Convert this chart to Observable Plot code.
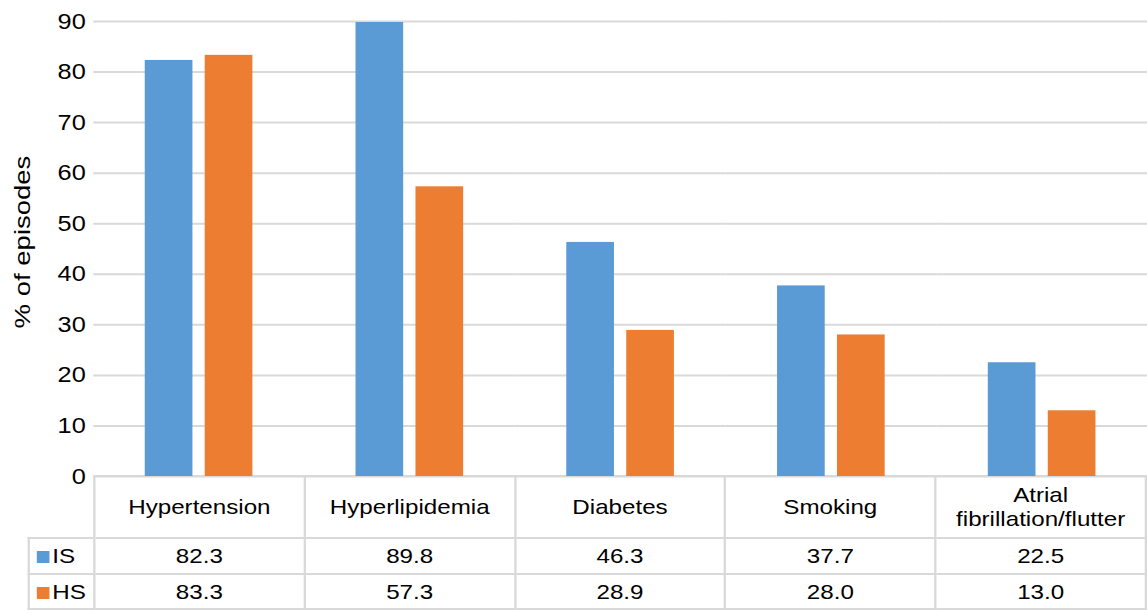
<!DOCTYPE html>
<html>
<head>
<meta charset="utf-8">
<script src="https://cdn.jsdelivr.net/npm/d3@7"></script>
<script src="https://cdn.jsdelivr.net/npm/@observablehq/plot@0.6"></script>
<style>
  html, body { margin: 0; padding: 0; background: #fff; }
  #outer { position: relative; width: 1147px; height: 610px; overflow: hidden; font-family: "Liberation Sans", Arial, sans-serif; color: #000; }
  /* the source picture is horizontally stretched: draw at 997px and stretch to 1147px */
  #wrap { position: absolute; left: 0; top: 0; width: 997px; height: 610px; transform-origin: 0 0; }
  #chart { position: absolute; left: 0; top: 0; z-index: 2; }
  #tbl { position: absolute; left: 23.5px; top: 475px; z-index: 1; border-collapse: collapse; table-layout: fixed; width: 973.5px; font-size: 21px; }
  #tbl td { border: 2px solid #d9d9d9; text-align: center; padding: 0; }
  #tbl tr.head td { height: 60px; line-height: 24px; }
  #tbl tr.head td.blank { border: none; border-right: 2px solid #d9d9d9; }
  #tbl tr.r0 td { height: 34px; }
  #tbl tr.r1 td { height: 33px; }
  #tbl td.leg { text-align: left; padding-left: 6px; }
  .sw { display: inline-block; width: 11px; height: 12px; margin-right: 3px; vertical-align: 0px; }
  #ylabel { position: absolute; left: 22.5px; top: 242px; font-size: 27.5px; white-space: nowrap; transform: translate(-50%, -50%) rotate(-90deg) scaleY(0.8); z-index: 3; }
</style>
</head>
<body>
<div id="outer">
  <div id="wrap">
    <div id="chart"></div>
    <table id="tbl"></table>
  </div>
  <div id="ylabel"></div>
</div>
<script>
const categories = ["Hypertension", "Hyperlipidemia", "Diabetes", "Smoking", "Atrial fibrillation/flutter"];
const series = ["IS", "HS"];
const isValues = [82.3, 89.8, 46.3, 37.7, 22.5];
const hsValues = [83.3, 57.3, 28.9, 28.0, 13.0];
const colors = ["#5b9bd5", "#ed7d31"];
const yTicks = [0, 10, 20, 30, 40, 50, 60, 70, 80, 90];
const yLabel = "% of episodes";

const SX = 1147 / 997;
document.getElementById("wrap").style.transform = `scaleX(${SX})`;

const valuesBySeries = {IS: isValues, HS: hsValues};
const data = [];
series.forEach(s => categories.forEach((c, i) => data.push({category: c, series: s, value: valuesBySeries[s][i]})));

const plot = Plot.plot({
  width: 997,
  height: 490,
  marginLeft: 81,
  marginRight: 0,
  marginTop: 21,
  marginBottom: 14,
  style: {background: "transparent", fontFamily: "'Liberation Sans', Arial, sans-serif", fontSize: "22px", color: "#000", overflow: "visible"},
  fx: {domain: categories, padding: 0, axis: null, round: false},
  x: {domain: series, paddingInner: 0.205, paddingOuter: 0.86, axis: null, round: false},
  y: {domain: [0, 90], ticks: yTicks, axis: null},
  color: {domain: series, range: colors},
  marks: [
    Plot.gridY(yTicks, {stroke: "#d9d9d9", strokeOpacity: 1, strokeWidth: 2}),
    Plot.axisY(yTicks, {tickSize: 0, tickPadding: 7, fontSize: 22, fill: "#000", label: null}),
    Plot.barY(data, {fx: "category", x: "series", y: "value", fill: "series"})
  ]
});
document.getElementById("chart").appendChild(plot);
document.getElementById("ylabel").textContent = yLabel;

// data table below the chart (built from the same arrays)
const tbl = document.getElementById("tbl");
let html = '<colgroup><col style="width:57.4px">' + categories.map(() => '<col>').join('') + '</colgroup>';
html += '<tr class="head"><td class="blank"></td>' + categories.map(c => `<td>${c}</td>`).join('') + '</tr>';
series.forEach((s, si) => {
  html += `<tr class="r${si}"><td class="leg"><span class="sw" style="background:${colors[si]}"></span>${s}</td>` +
    valuesBySeries[s].map(v => `<td>${v.toFixed(1)}</td>`).join('') + '</tr>';
});
tbl.innerHTML = html;
</script>
</body>
</html>
